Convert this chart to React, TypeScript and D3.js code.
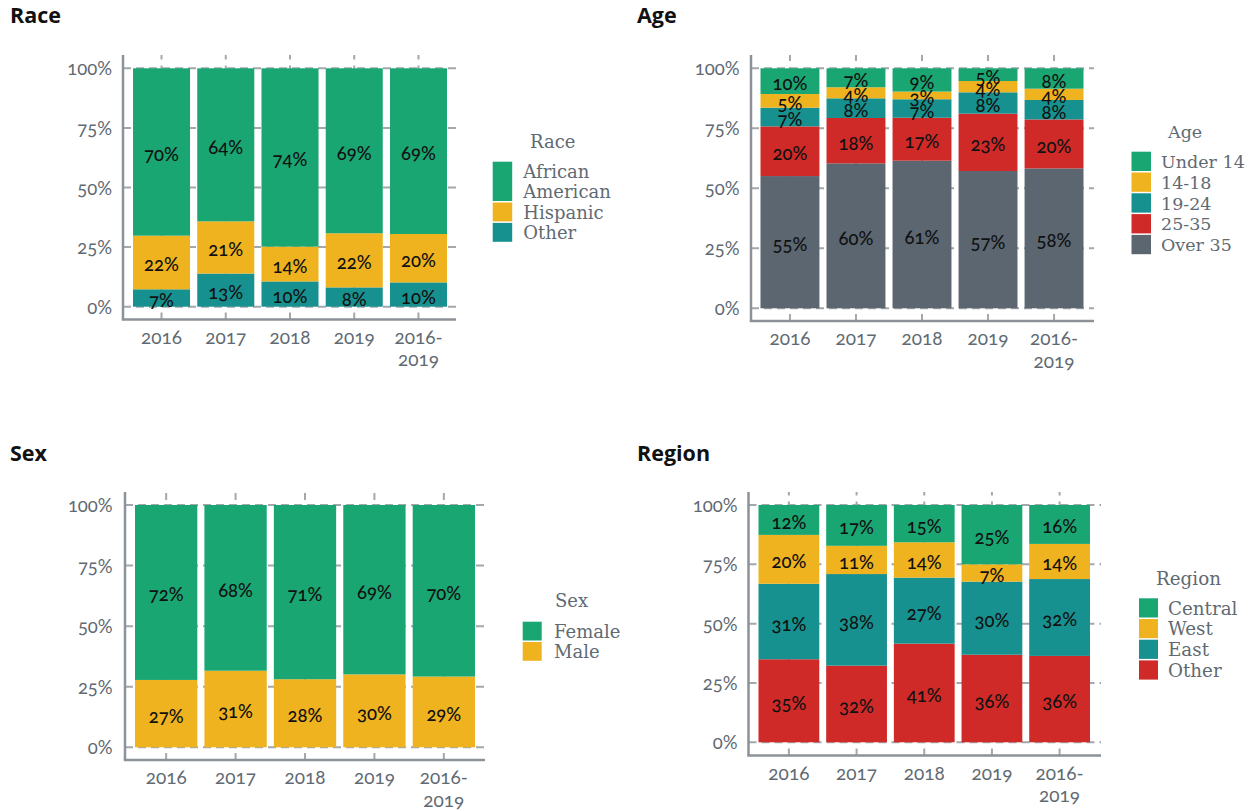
import React, { useEffect } from "react";
import * as d3 from "d3";

// ---------- DATA ----------
const years = ["2016", "2017", "2018", "2019", "2016-2019"];
const yTickValues = [0, 0.25, 0.5, 0.75, 1];

// Race (legend order top -> bottom)
const raceKeys = ["African American", "Hispanic", "Other"];
const raceAfricanAmerican = [70.2, 64.2, 74.8, 69.2, 69.5];
const raceHispanic = [22.5, 21.9, 14.6, 22.7, 20.3];
const raceOther = [7.3, 13.9, 10.6, 8.1, 10.2];

// Age
const ageKeys = ["Under 14", "14-18", "19-24", "25-35", "Over 35"];
const ageUnder14 = [10.7, 7.9, 9.7, 5.3, 8.5];
const age14to18 = [5.7, 4.6, 3.2, 4.7, 4.7];
const age19to24 = [7.8, 8.2, 7.7, 8.9, 8.1];
const age25to35 = [20.7, 18.9, 17.9, 23.9, 20.4];
const ageOver35 = [55.1, 60.4, 61.5, 57.2, 58.3];

// Sex
const sexKeys = ["Female", "Male"];
const sexFemale = [72.2, 68.4, 71.9, 69.9, 70.8];
const sexMale = [27.8, 31.6, 28.1, 30.1, 29.2];

// Region
const regionKeys = ["Central", "West", "East", "Other"];
const regionCentral = [12.6, 17.2, 15.7, 25.0, 16.4];
const regionWest = [20.6, 11.9, 14.9, 7.3, 14.8];
const regionEast = [31.8, 38.6, 27.8, 30.8, 32.4];
const regionOther = [35.0, 32.3, 41.6, 36.9, 36.4];

// ---------- STYLE ----------
const GREEN = "#1aa673";
const YELLOW = "#efb31f";
const TEAL = "#17918f";
const RED = "#d02a28";
const SLATE = "#5b6670";
const AXIS = "#8c9298";
const GRID = "#a3a8ad";
const TEXT_GRAY = "#5f6a72";
const NUM_FONT = "Lato, 'Open Sans', sans-serif";
const LEGEND_FONT = "'DejaVu Serif', serif";

type Layout = {
  titleX: number; titleY: number;
  axisX: number; top: number; bottom: number; right: number;
  y0: number; y100: number;
  barLeft: number; barRight: number; gap: number;
  tickRight: number;
  legTitleX: number; legTitleY: number;
  swX: number; swW: number; rowTop: number; rowH: number; textX: number;
  legFont: number;
};

type PanelDef = {
  title: string;
  keys: string[]; // legend order
  series: Record<string, number[]>;
  colors: Record<string, string>;
  layout: Layout;
};

const panels: PanelDef[] = [
  {
    title: "Race",
    keys: raceKeys,
    series: { "African American": raceAfricanAmerican, Hispanic: raceHispanic, Other: raceOther },
    colors: { "African American": GREEN, Hispanic: YELLOW, Other: TEAL },
    layout: {
      titleX: 10, titleY: 23,
      axisX: 123, top: 55, bottom: 319.5, right: 456,
      y0: 306.7, y100: 68.3,
      barLeft: 133, barRight: 447, gap: 7.2,
      tickRight: 112,
      legTitleX: 530, legTitleY: 148,
      swX: 492.7, swW: 19.5, rowTop: 161.7, rowH: 20.4, textX: 523.3,
      legFont: 18,
    },
  },
  {
    title: "Age",
    keys: ageKeys,
    series: { "Under 14": ageUnder14, "14-18": age14to18, "19-24": age19to24, "25-35": age25to35, "Over 35": ageOver35 },
    colors: { "Under 14": GREEN, "14-18": YELLOW, "19-24": TEAL, "25-35": RED, "Over 35": SLATE },
    layout: {
      titleX: 637, titleY: 23,
      axisX: 751, top: 55, bottom: 321, right: 1094,
      y0: 308.3, y100: 68.3,
      barLeft: 760.5, barRight: 1083.5, gap: 7.1,
      tickRight: 739.5,
      legTitleX: 1168, legTitleY: 138.3,
      swX: 1131.5, swW: 19.5, rowTop: 151.7, rowH: 20.8, textX: 1161,
      legFont: 17.5,
    },
  },
  {
    title: "Sex",
    keys: sexKeys,
    series: { Female: sexFemale, Male: sexMale },
    colors: { Female: GREEN, Male: YELLOW },
    layout: {
      titleX: 10, titleY: 461,
      axisX: 125, top: 492, bottom: 760, right: 485,
      y0: 747.3, y100: 505,
      barLeft: 135, barRight: 475, gap: 7.1,
      tickRight: 112.7,
      legTitleX: 555, legTitleY: 606.7,
      swX: 522.7, swW: 19, rowTop: 621.7, rowH: 20.3, textX: 554,
      legFont: 18,
    },
  },
  {
    title: "Region",
    keys: regionKeys,
    series: { Central: regionCentral, West: regionWest, East: regionEast, Other: regionOther },
    colors: { Central: GREEN, West: YELLOW, East: TEAL, Other: RED },
    layout: {
      titleX: 637, titleY: 461,
      axisX: 748.5, top: 492, bottom: 755.5, right: 1101,
      y0: 742.3, y100: 505,
      barLeft: 758.5, barRight: 1090, gap: 6.9,
      tickRight: 737.5,
      legTitleX: 1156, legTitleY: 585,
      swX: 1139, swW: 19, rowTop: 598.3, rowH: 20.7, textX: 1168,
      legFont: 18.3,
    },
  },
];

function Panel({ p }: { p: PanelDef }) {
  const L = p.layout;
  const stackOrder = [...p.keys].reverse(); // bottom -> top
  const rows = years.map((yr, i) => {
    const o: any = { year: yr };
    stackOrder.forEach((k) => (o[k] = p.series[k][i]));
    return o;
  });
  const stacked = d3.stack<any>().keys(stackOrder).offset(d3.stackOffsetExpand)(rows);

  const step = (L.barRight - L.barLeft + L.gap) / years.length;
  const pi = L.gap / step;
  const x = d3
    .scaleBand<string>()
    .domain(years)
    .range([L.barLeft - L.gap / 2, L.barRight + L.gap / 2])
    .paddingInner(pi)
    .paddingOuter(pi / 2);
  const y = d3.scaleLinear().domain([0, 1]).range([L.y0, L.y100]);
  const fmt = d3.format(".0%");

  const numStyle: React.CSSProperties = { fontVariantNumeric: "oldstyle-nums", fontFeatureSettings: "'onum' 1" };

  let lineCursor = 0;
  const legendItems = p.keys.map((k) => {
    const lines = k === "African American" ? ["African", "American"] : [k];
    const start = lineCursor;
    lineCursor += lines.length;
    return { k, lines, start };
  });

  return (
    <g>
      <text x={L.titleX} y={L.titleY} fontFamily="'Open Sans', sans-serif" fontWeight={700} fontSize={21.5} fill="#111">
        {p.title}
      </text>

      {/* gridlines */}
      {yTickValues.map((t) => (
        <line key={"h" + t} x1={L.axisX} x2={L.right} y1={y(t)} y2={y(t)} stroke={GRID} strokeWidth={2} strokeDasharray="8,5" />
      ))}
      {years.map((yr) => {
        const cx = (x(yr) as number) + x.bandwidth() / 2;
        return (
          <line key={"v" + yr} x1={cx} x2={cx} y1={L.bottom} y2={L.top} stroke={GRID} strokeWidth={2} strokeDasharray="7,6" />
        );
      })}

      {/* bars */}
      {stacked.map((layer) => (
        <g key={layer.key} fill={p.colors[layer.key]}>
          {layer.map((d, i) => (
            <rect
              key={i}
              x={x(years[i]) as number}
              width={x.bandwidth()}
              y={y(d[1])}
              height={y(d[0]) - y(d[1])}
            />
          ))}
        </g>
      ))}

      {/* value labels */}
      {stacked.map((layer) =>
        layer.map((d, i) => {
          const v = p.series[layer.key][i];
          return (
            <text
              key={layer.key + i}
              x={(x(years[i]) as number) + x.bandwidth() / 2}
              y={(y(d[0]) + y(d[1])) / 2 + 2}
              textAnchor="middle"
              dominantBaseline="central"
              fontFamily={NUM_FONT}
              fontSize={18.5}
              fontWeight={500}
              fill="#111"
              style={numStyle}
            >
              {Math.floor(v) + "%"}
            </text>
          );
        })
      )}

      {/* axes */}
      <line x1={L.axisX} x2={L.axisX} y1={L.top} y2={L.bottom} stroke={AXIS} strokeWidth={2.5} />
      <line x1={L.axisX - 1.25} x2={L.right} y1={L.bottom} y2={L.bottom} stroke={AXIS} strokeWidth={2.5} />

      {yTickValues.map((t) => (
        <text
          key={"yt" + t}
          x={L.tickRight}
          y={y(t)}
          textAnchor="end"
          dominantBaseline="central"
          fontFamily={NUM_FONT}
          fontSize={18.5}
          fill={TEXT_GRAY}
          style={numStyle}
        >
          {fmt(t)}
        </text>
      ))}

      {years.map((yr) => {
        const cx = (x(yr) as number) + x.bandwidth() / 2;
        const parts = yr.includes("-") ? [yr.split("-")[0] + "-", yr.split("-")[1]] : [yr];
        return (
          <text key={"xt" + yr} x={cx} y={L.bottom + 24} textAnchor="middle" fontFamily={NUM_FONT} fontSize={19} fill={TEXT_GRAY} style={numStyle}>
            {parts.map((s, j) => (
              <tspan key={j} x={cx} dy={j === 0 ? 0 : 22.5}>
                {s}
              </tspan>
            ))}
          </text>
        );
      })}

      {/* legend */}
      <text x={L.legTitleX} y={L.legTitleY} fontFamily={LEGEND_FONT} fontSize={L.legFont} fill={TEXT_GRAY}>
        {p.title}
      </text>
      {legendItems.map((it) => (
        <g key={"lg" + it.k}>
          <rect
            x={L.swX}
            y={L.rowTop + it.start * L.rowH}
            width={L.swW}
            height={it.lines.length * L.rowH - 1.5}
            fill={p.colors[it.k]}
          />
          {it.lines.map((ln, j) => (
            <text
              key={j}
              x={L.textX}
              y={L.rowTop + (it.start + j) * L.rowH + 16.3}
              fontFamily={LEGEND_FONT}
              fontSize={L.legFont}
              fill={TEXT_GRAY}
            >
              {ln}
            </text>
          ))}
        </g>
      ))}
    </g>
  );
}

export default function App() {
  useEffect(() => {
    document.body.style.margin = "0";
  }, []);
  return (
    <svg width={1249} height={811} style={{ position: "absolute", left: 0, top: 0, background: "#fff" }}>
      {panels.map((p) => (
        <Panel key={p.title} p={p} />
      ))}
    </svg>
  );
}
